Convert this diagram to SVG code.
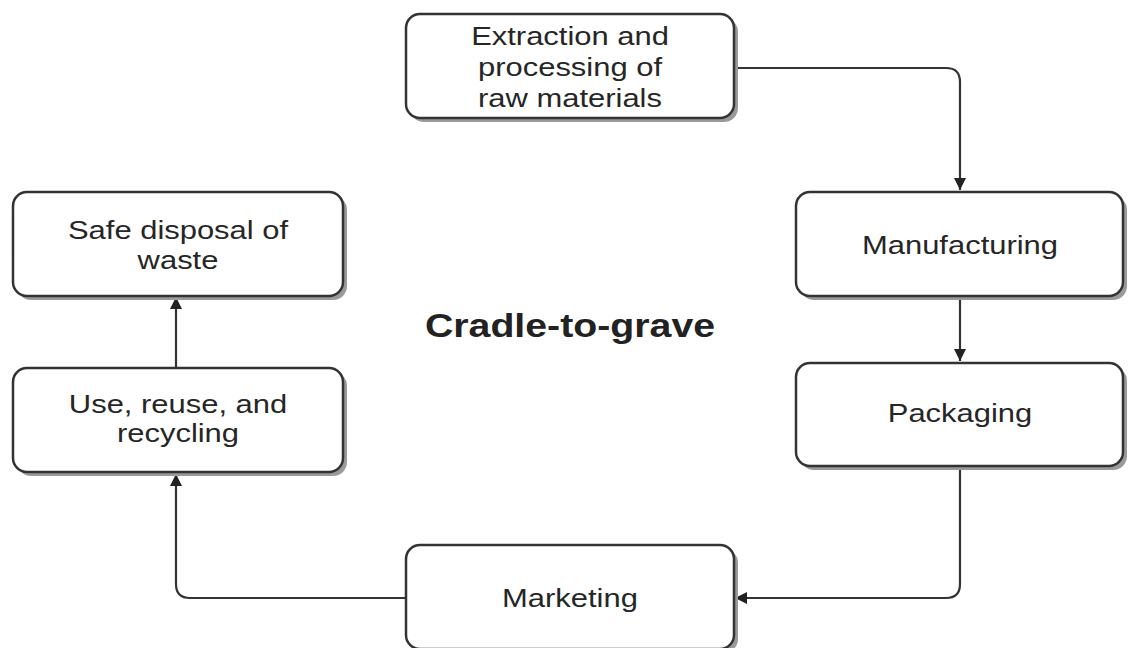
<svg xmlns="http://www.w3.org/2000/svg" width="1131" height="648" viewBox="0 0 1131 648">
<defs>
<style>
.box{fill:#fff;stroke:#333;stroke-width:2.5}
.sh{fill:#9a9a9a}
.t{font-family:"Liberation Sans",Arial,sans-serif;font-size:26px;fill:#262626;text-anchor:middle}
.b{font-family:"Liberation Sans",Arial,sans-serif;font-size:33px;font-weight:bold;fill:#222;text-anchor:middle}
.c{fill:none;stroke:#333;stroke-width:2.2}
</style>
<marker id="ah" viewBox="0 0 12 12" refX="12" refY="6" markerWidth="12" markerHeight="12" markerUnits="userSpaceOnUse" orient="auto">
<path d="M0,0 L12,6 L0,12 Z" fill="#222"/>
</marker>
</defs>
<rect width="1131" height="648" fill="#fff"/>
<g id="connectors">
<path class="c" d="M733,68 H946 Q960,68 960,82 V190" marker-end="url(#ah)"/>
<path class="c" d="M960,295 V361" marker-end="url(#ah)"/>
<path class="c" d="M960,465 V584 Q960,598 946,598 H735" marker-end="url(#ah)"/>
<path class="c" d="M405,598 H190 Q176,598 176,584 V474" marker-end="url(#ah)"/>
<path class="c" d="M176,368 V297" marker-end="url(#ah)"/>
</g>
<g id="extraction">
<rect class="sh" x="410" y="18" width="328" height="104" rx="14"/>
<rect class="box" x="406" y="14" width="328" height="104" rx="14"/>
<g transform="translate(570,0) scale(1.19,1)">
<text class="t" x="0" y="45">Extraction and</text>
<text class="t" x="0" y="76">processing of</text>
<text class="t" x="0" y="107">raw materials</text>
</g>
</g>
<g id="manufacturing">
<rect class="sh" x="800" y="196" width="327" height="104" rx="14"/>
<rect class="box" x="796" y="192" width="327" height="104" rx="14"/>
<text class="t" transform="translate(960,254) scale(1.19,1)" x="0" y="0">Manufacturing</text>
</g>
<g id="packaging">
<rect class="sh" x="800" y="367" width="327" height="103" rx="14"/>
<rect class="box" x="796" y="363" width="327" height="103" rx="14"/>
<text class="t" transform="translate(960,422) scale(1.19,1)" x="0" y="0">Packaging</text>
</g>
<g id="marketing">
<rect class="sh" x="410" y="549" width="328" height="104" rx="14"/>
<rect class="box" x="406" y="545" width="328" height="104" rx="14"/>
<text class="t" transform="translate(570,607) scale(1.19,1)" x="0" y="0">Marketing</text>
</g>
<g id="use">
<rect class="sh" x="17" y="372" width="330" height="104" rx="14"/>
<rect class="box" x="13" y="368" width="330" height="104" rx="14"/>
<g transform="translate(178,0) scale(1.19,1)">
<text class="t" x="0" y="413">Use, reuse, and</text>
<text class="t" x="0" y="442">recycling</text>
</g>
</g>
<g id="disposal">
<rect class="sh" x="17" y="196" width="330" height="104" rx="14"/>
<rect class="box" x="13" y="192" width="330" height="104" rx="14"/>
<g transform="translate(178,0) scale(1.19,1)">
<text class="t" x="0" y="239">Safe disposal of</text>
<text class="t" x="0" y="269">waste</text>
</g>
</g>
<g id="title">
<text class="b" transform="translate(570,337) scale(1.19,1)" x="0" y="0">Cradle-to-grave</text>
</g>
</svg>
